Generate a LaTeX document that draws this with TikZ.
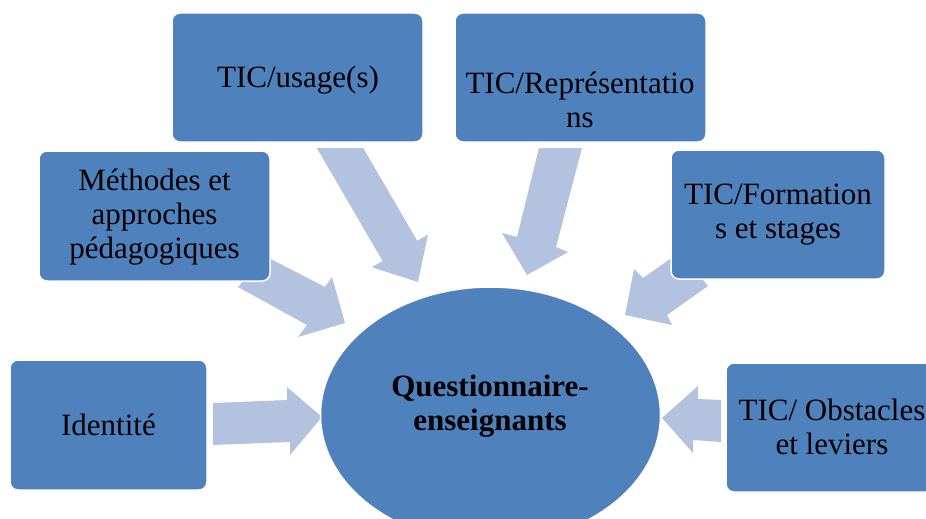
\documentclass[tikz,border=0pt]{standalone}
\usepackage{fontspec}
\setmainfont{Liberation Serif}
\usetikzlibrary{shapes.geometric}
\definecolor{boxblue}{HTML}{4F81BD}
\definecolor{arrowblue}{HTML}{B3C2DE}
\begin{document}
\begin{tikzpicture}[x=1pt,y=-1pt,
  boxnode/.style={draw=white, line width=1.5pt, fill=boxblue, rounded corners=8pt, inner sep=0pt},
  txt/.style={align=center, font=\fontsize{31}{34}\selectfont, inner sep=0pt, text=black},
  blockarrow/.style={fill=arrowblue, draw=none}]
\useasboundingbox (0,0) rectangle (926,519);
\clip (0,0) rectangle (926,519);
% block arrows
\fill[blockarrow] (316.8,148) -- (363.2,148) -- (417.2,240.8) -- (428,234.5) -- (418,282) -- (371.8,267.2) -- (382.6,261) -- cycle;
\fill[blockarrow] (539,148) -- (582,148) -- (556,247) -- (568,252) -- (527,275) -- (502,233) -- (517,237) -- cycle;
\fill[blockarrow] (238,287) -- (307,325) -- (298,337) -- (345,323) -- (332,277) -- (325,287) -- (265,256) -- cycle;
\fill[blockarrow] (708,286) -- (667,315) -- (672,325) -- (625,315) -- (634,269) -- (643,278) -- (680,252) -- cycle;
\fill[blockarrow] (213,403) -- (287,400) -- (287,387) -- (322,417) -- (290,455) -- (290,442) -- (213,445) -- cycle;
\fill[blockarrow] (721,400) -- (698,399) -- (698,386) -- (662,418) -- (693,453) -- (693,440) -- (721,442) -- cycle;
% boxes
\node[boxnode, minimum width=251pt, minimum height=129pt] (usage) at (297.5,77.5) {};
\node[boxnode, minimum width=251pt, minimum height=129pt] (repr) at (580.5,77.5) {};
\node[boxnode, minimum width=231pt, minimum height=130pt] (meth) at (154.5,216) {};
\node[boxnode, minimum width=214pt, minimum height=129pt] (form) at (778,214.5) {};
\node[boxnode, minimum width=197pt, minimum height=130pt] (ident) at (108.5,425) {};
\node[boxnode, minimum width=208pt, minimum height=129pt] (obst) at (830,427.5) {};
\node[ellipse, draw=white, line width=1.5pt, fill=boxblue, minimum width=340pt, minimum height=256pt, inner sep=0pt] (quest) at (490.5,415) {};
% texts
\node[txt] (tusage) at (298,80) {TIC/usage(s)};
\node[txt] (trepr) at (580,100) {TIC/Représentatio\\ns};
\node[txt] (tmeth) at (154.5,217) {Méthodes et\\approches\\pédagogiques};
\node[txt] (tform) at (778,215) {TIC/Formation\\s et stages};
\node[txt] (tident) at (108.5,425) {Identité};
\node[txt] (tobst) at (832,427) {TIC/ Obstacles\\et leviers};
\node[txt, font=\fontsize{31}{34}\selectfont\bfseries] (tquest) at (490,406) {Questionnaire-\\enseignants};
\end{tikzpicture}
\end{document}
